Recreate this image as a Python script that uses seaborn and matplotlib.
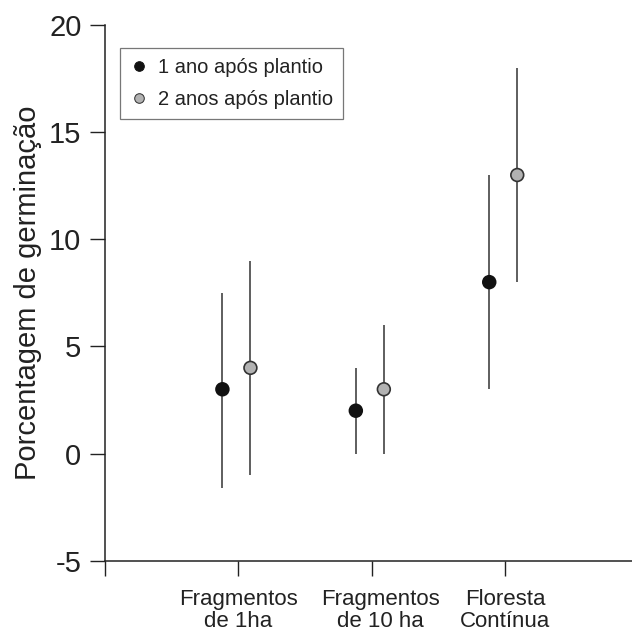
import numpy as np
import pandas as pd
import matplotlib
matplotlib.use("Agg")
import matplotlib.pyplot as plt
import matplotlib.transforms as mtransforms
import seaborn as sns

categories = ["Fragmentos\nde 1ha", "Fragmentos\nde 10 ha", "Floresta\nContínua"]
series_names = ["1 ano após plantio", "2 anos após plantio"]
ano1_mean = [3, 2, 8]
ano1_low = [-1.6, 0, 3]
ano1_high = [7.5, 4, 13]
ano2_mean = [4, 3, 13]
ano2_low = [-1, 0, 8]
ano2_high = [9, 6, 18]
yticks = [-5, 0, 5, 10, 15, 20]

sns.set_theme(style="ticks")
plt.rcParams['font.family'] = ['Liberation Sans', 'DejaVu Sans']
txt = "#222222"

offsets = [-0.12, 0.09]
colors = ["#111111", "#b2b2b2"]
edges = ["#111111", "#333333"]

rows = []
for s, (m, lo, hi) in enumerate([(ano1_mean, ano1_low, ano1_high), (ano2_mean, ano2_low, ano2_high)]):
    for i, c in enumerate(categories):
        rows.append(dict(serie=series_names[s], pos=i + 1 + offsets[s], val=m[i], lo=lo[i], hi=hi[i]))
df = pd.DataFrame(rows)

fig = plt.figure(figsize=(6.32, 6.33), dpi=100)
ax = fig.add_axes([105/632, 1 - 560.7/633, 1 - 105/632, (560.7 - 25)/633])

for s, name in enumerate(series_names):
    d = df[df.serie == name]
    ax.vlines(d.pos, d.lo, d.hi, color="#333333", linewidth=1.1, zorder=2)

sns.scatterplot(data=df, x="pos", y="val", hue="serie", palette=dict(zip(series_names, colors)),
                s=85, ax=ax, zorder=3, legend=True)
pc = ax.collections[-1]
pc.set_edgecolor([edges[0] if r == series_names[0] else edges[1] for r in df.serie])
pc.set_linewidth(1.2)

ax.set_xlim(0, 3.95)
ax.set_ylim(-5, 20)
ax.set_yticks(yticks)
ax.set_yticklabels([str(t) for t in yticks], fontsize=21, color=txt)
ax.set_xticks([0, 1, 2, 3])
ax.set_xticklabels([""] + categories, fontsize=16, linespacing=1.05, color=txt)
ax.set_xlabel("")
ax.set_ylabel("Porcentagem de germinação", fontsize=21, labelpad=5, color=txt)
ax.tick_params(axis="y", length=11, width=1.0, color="#222222", pad=6)
ax.tick_params(axis="x", length=10.5, width=1.0, color="#222222", pad=10)
sns.despine(ax=ax)
for sp in ["left", "bottom"]:
    ax.spines[sp].set_linewidth(1.1)
    ax.spines[sp].set_color("#222222")

# small horizontal nudge of the middle category label, as in the reference
lab = ax.get_xticklabels()[2]
lab.set_transform(lab.get_transform() + mtransforms.ScaledTranslation(9/100, 0, fig.dpi_scale_trans))

handles, labels = ax.get_legend_handles_labels()
for h, e in zip(handles, edges):
    try:
        h.set_markeredgecolor(e)
    except Exception:
        h.set_edgecolor(e)
leg = ax.legend(handles, labels, loc="upper left", bbox_to_anchor=(0.028, 0.957), borderaxespad=0,
                fontsize=14.5, frameon=True, fancybox=False, edgecolor="#555555",
                handletextpad=0.5, borderpad=0.5, labelspacing=0.65, markerscale=0.75,
                handlelength=0.9)
for t in leg.get_texts():
    t.set_color(txt)
leg.get_frame().set_linewidth(0.9)

fig.savefig("out.png", dpi=100)
